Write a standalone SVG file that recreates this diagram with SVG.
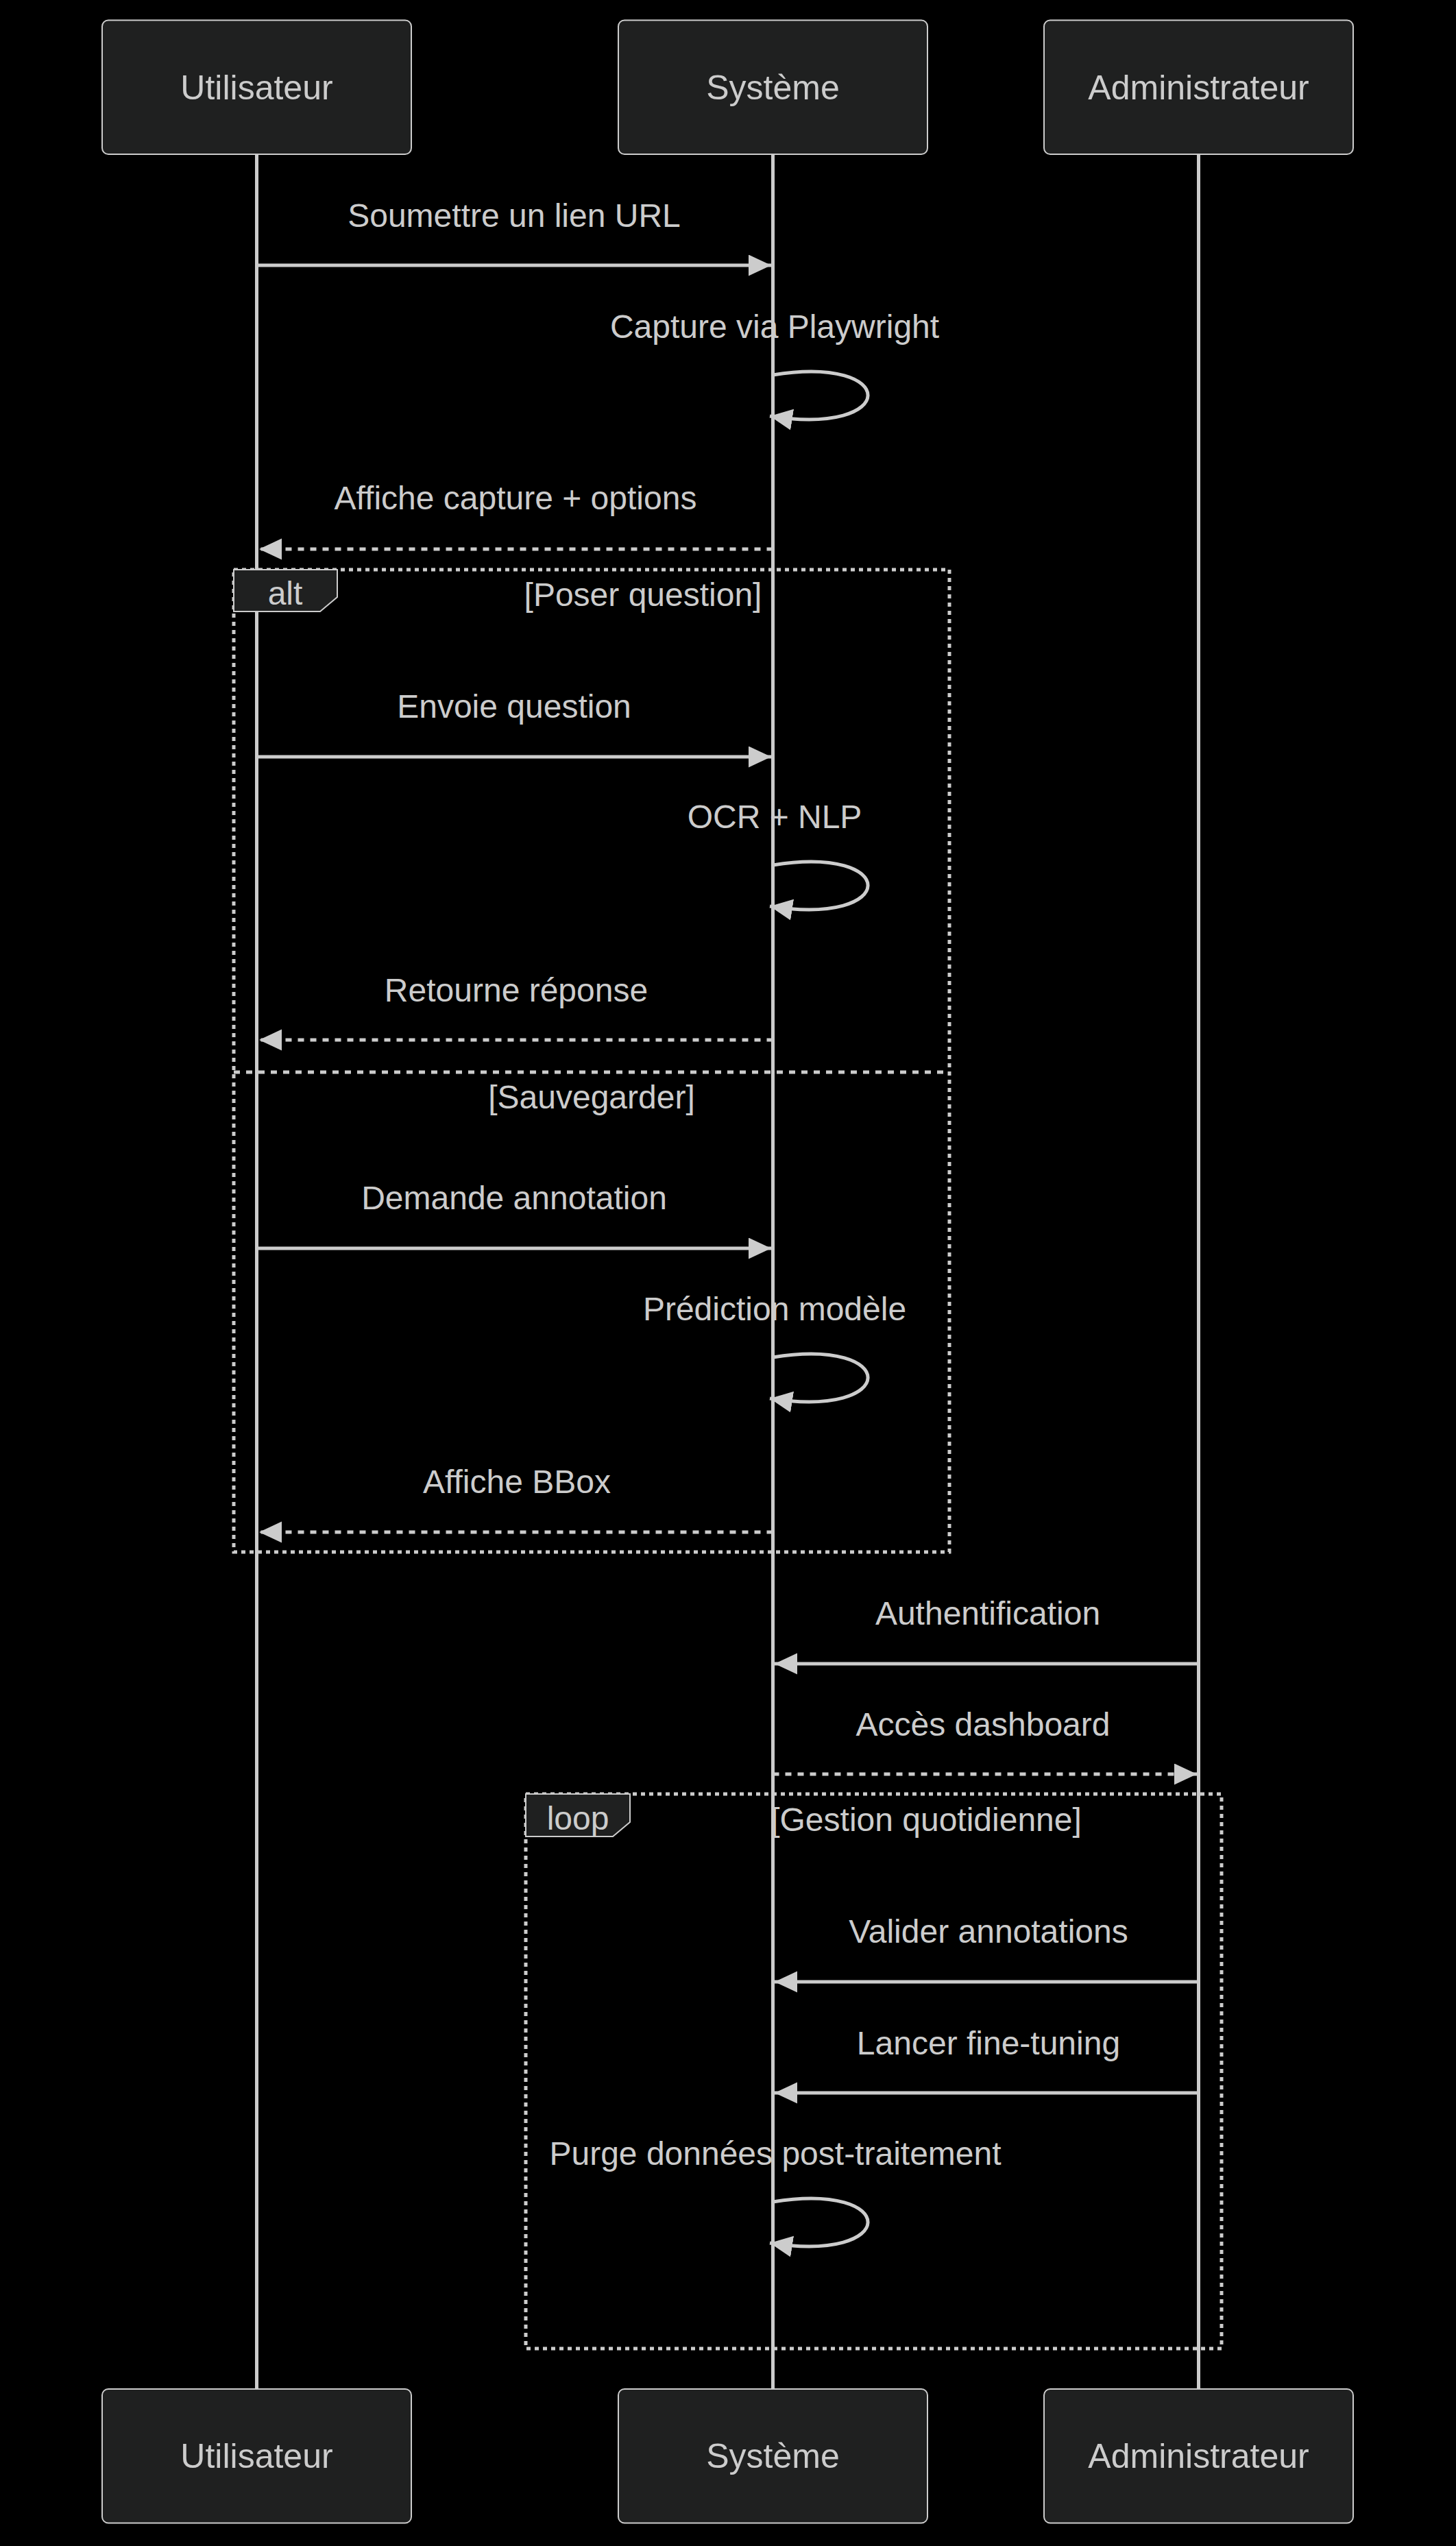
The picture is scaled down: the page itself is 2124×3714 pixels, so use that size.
<svg xmlns="http://www.w3.org/2000/svg" width="2124" height="3714" viewBox="0 0 2124 3714">
  <style>
    text { font-family: "Liberation Sans", Arial, sans-serif; fill: #cccccc; text-anchor: middle; }
    .actor rect { fill: #1f2020; stroke: #cccccc; stroke-width: 2; }
    .actor text { font-size: 50px; }
    .lifeline { stroke: #cccccc; stroke-width: 5; }
    .msg { stroke: #cccccc; stroke-width: 5; fill: none; marker-end: url(#arrow); }
    .dashed { stroke-dasharray: 9 9; }
    .msgtext { font-size: 48px; }
    .frame { fill: none; stroke: #cccccc; stroke-width: 5; stroke-dasharray: 6 6; }
    .divider { stroke: #cccccc; stroke-width: 5; stroke-dasharray: 9 9; }
    .labelbox { fill: #1f2020; stroke: #cccccc; stroke-width: 2; }
    .labeltext { font-size: 48px; }
  </style>
  <defs>
    <marker id="arrow" markerUnits="userSpaceOnUse" markerWidth="34" markerHeight="32" refX="33" refY="15.5" orient="auto">
      <path d="M0,0 L33,15.5 L0,31 z" fill="#cccccc"/>
    </marker>
  </defs>

  <rect x="0" y="0" width="2124" height="3714" fill="#000000"/>

  <!-- lifelines -->
  <g id="lifelines">
    <line class="lifeline" x1="374.5" y1="225" x2="374.5" y2="3485"/>
    <line class="lifeline" x1="1127.5" y1="225" x2="1127.5" y2="3485"/>
    <line class="lifeline" x1="1748.5" y1="225" x2="1748.5" y2="3485"/>
  </g>

  <!-- alt / loop frames -->
  <g id="frame-alt">
    <rect class="frame" x="341" y="831" width="1044" height="1433"/>
    <line class="divider" x1="341" y1="1564" x2="1385" y2="1564"/>
    <polygon class="labelbox" points="341,831 492,831 492,871 467,892 341,892"/>
    <text class="labeltext" x="416" y="882">alt</text>
    <text class="labeltext" x="938" y="884">[Poser question]</text>
    <text class="labeltext" x="863" y="1617">[Sauvegarder]</text>
  </g>
  <g id="frame-loop">
    <rect class="frame" x="767" y="2617" width="1015" height="809"/>
    <polygon class="labelbox" points="767,2617 919,2617 919,2658 894,2679 767,2679"/>
    <text class="labeltext" x="843" y="2669">loop</text>
    <text class="labeltext" x="1351" y="2671">[Gestion quotidienne]</text>
  </g>

  <!-- messages -->
  <g id="connectors">
    <line class="msg" x1="374.5" y1="387" x2="1125" y2="387"/>
    <path class="msg" d="M1127.5,547 C1313,517 1313,637 1123,607"/>
    <line class="msg dashed" x1="1127.5" y1="801" x2="378" y2="801"/>
    <line class="msg" x1="374.5" y1="1104" x2="1125" y2="1104"/>
    <path class="msg" d="M1127.5,1262 C1313,1232 1313,1352 1123,1322"/>
    <line class="msg dashed" x1="1127.5" y1="1517" x2="378" y2="1517"/>
    <line class="msg" x1="374.5" y1="1821" x2="1125" y2="1821"/>
    <path class="msg" d="M1127.5,1980 C1313,1950 1313,2070 1123,2040"/>
    <line class="msg dashed" x1="1127.5" y1="2235" x2="378" y2="2235"/>
    <line class="msg" x1="1748.5" y1="2427" x2="1130" y2="2427"/>
    <line class="msg dashed" x1="1127.5" y1="2588" x2="1746" y2="2588"/>
    <line class="msg" x1="1748.5" y1="2891" x2="1130" y2="2891"/>
    <line class="msg" x1="1748.5" y1="3053" x2="1130" y2="3053"/>
    <path class="msg" d="M1127.5,3212 C1313,3182 1313,3302 1123,3272"/>
  </g>

  <!-- message labels -->
  <g id="message-labels">
    <text class="msgtext" x="750" y="331">Soumettre un lien URL</text>
    <text class="msgtext" x="1130" y="493">Capture via Playwright</text>
    <text class="msgtext" x="752" y="743">Affiche capture + options</text>
    <text class="msgtext" x="750" y="1047">Envoie question</text>
    <text class="msgtext" x="1130" y="1208">OCR + NLP</text>
    <text class="msgtext" x="753" y="1461">Retourne réponse</text>
    <text class="msgtext" x="750" y="1764">Demande annotation</text>
    <text class="msgtext" x="1130" y="1926">Prédiction modèle</text>
    <text class="msgtext" x="754" y="2178">Affiche BBox</text>
    <text class="msgtext" x="1441" y="2370">Authentification</text>
    <text class="msgtext" x="1434" y="2532">Accès dashboard</text>
    <text class="msgtext" x="1442" y="2834">Valider annotations</text>
    <text class="msgtext" x="1442" y="2997">Lancer fine-tuning</text>
    <text class="msgtext" x="1131" y="3158">Purge données post-traitement</text>
  </g>

  <!-- participants (top) -->
  <g id="actor-utilisateur-top" class="actor">
    <rect x="149" y="29.5" width="451" height="195.5" rx="9"/>
    <text x="374.5" y="145">Utilisateur</text>
  </g>
  <g id="actor-systeme-top" class="actor">
    <rect x="902" y="29.5" width="451" height="195.5" rx="9"/>
    <text x="1127.5" y="145">Système</text>
  </g>
  <g id="actor-administrateur-top" class="actor">
    <rect x="1523" y="29.5" width="451" height="195.5" rx="9"/>
    <text x="1748.5" y="145">Administrateur</text>
  </g>

  <!-- participants (bottom) -->
  <g id="actor-utilisateur-bottom" class="actor">
    <rect x="149" y="3485" width="451" height="195.5" rx="9"/>
    <text x="374.5" y="3600">Utilisateur</text>
  </g>
  <g id="actor-systeme-bottom" class="actor">
    <rect x="902" y="3485" width="451" height="195.5" rx="9"/>
    <text x="1127.5" y="3600">Système</text>
  </g>
  <g id="actor-administrateur-bottom" class="actor">
    <rect x="1523" y="3485" width="451" height="195.5" rx="9"/>
    <text x="1748.5" y="3600">Administrateur</text>
  </g>
</svg>
